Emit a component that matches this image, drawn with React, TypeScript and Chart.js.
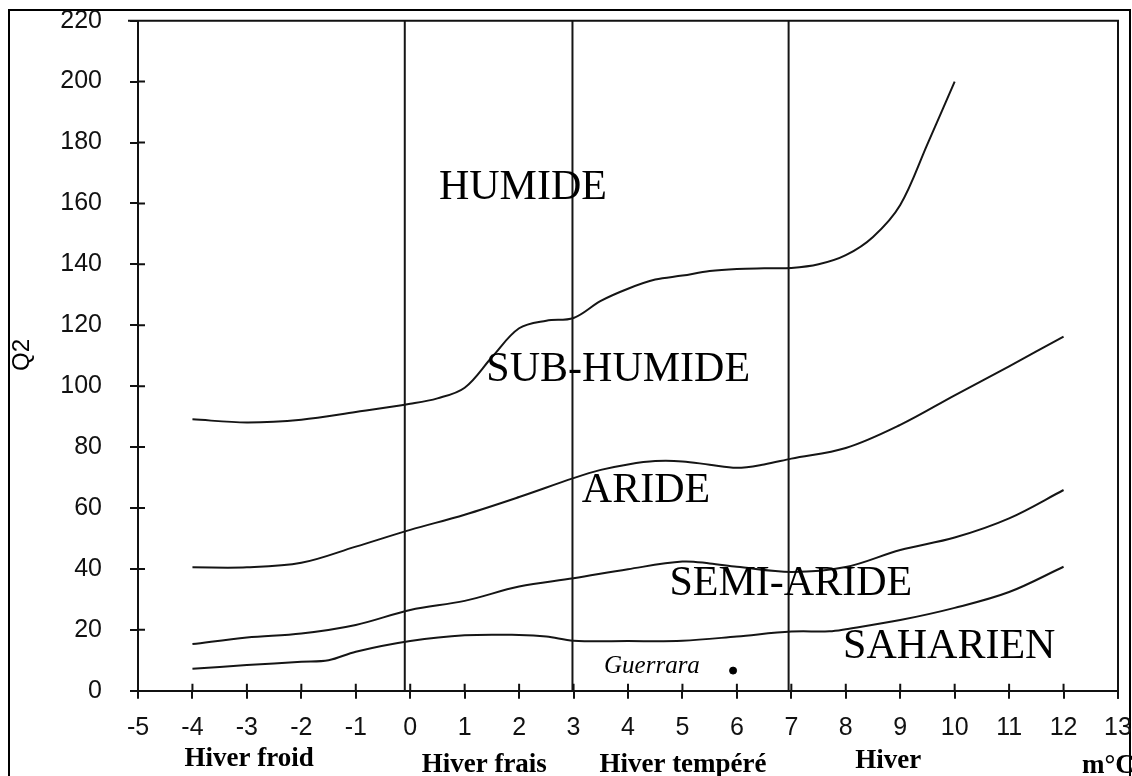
import React, { useEffect, useRef } from 'react';
import { Chart, registerables } from 'chart.js';

Chart.register(...registerables);

// Boundary curves (m °C on x, Q2 on y)
const humideX = [-4, -3, -2, -1, 0, 0.5, 1, 1.5, 2, 2.5, 3, 3.5, 4, 4.5, 5, 5.5, 6, 6.5, 7, 7.5, 8, 8.5, 9, 9.5, 10];
const humideY = [89.1, 88.1, 89, 91.5, 94.2, 96, 99.5, 109.5, 119, 121.5, 122.4, 128, 132, 135, 136.3, 137.8, 138.5, 138.7, 138.8, 140, 143, 149, 159.5, 179.5, 200];

const subHumideX = [-4, -3, -2, -1, 0, 1, 2, 3, 3.5, 4, 4.5, 5, 5.5, 6, 6.5, 7, 8, 9, 10, 11, 12];
const subHumideY = [40.5, 40.5, 42, 47.3, 52.8, 57.8, 63.6, 69.8, 72.5, 74.3, 75.4, 75.3, 74.2, 73.2, 74.3, 76.2, 79.7, 87.3, 97, 106.5, 116.3];

const arideX = [-4, -3, -2, -1, 0, 1, 2, 3, 4, 5, 5.5, 6, 7, 8, 9, 10, 11, 12];
const arideY = [15.3, 17.5, 18.8, 21.6, 26.5, 29.5, 34.2, 36.9, 39.9, 42.4, 41.8, 40.7, 39, 40.6, 46.2, 50.3, 56.6, 65.9];

const semiArideX = [-4, -3, -2, -1.5, -1, 0, 1, 2, 2.5, 3, 4, 5, 6, 7, 7.7, 8, 9, 10, 11, 12];
const semiArideY = [7.2, 8.4, 9.5, 10, 12.8, 16.3, 18.2, 18.3, 17.8, 16.4, 16.3, 16.4, 17.8, 19.4, 19.5, 20.2, 23.2, 27.2, 32.4, 40.7];

// Winter type dividers
const dividerX = [-0.1, 2.98, 6.95];
const dividerYMin = 0;
const dividerYMax = 221;

// Station
const stationName = 'Guerrara';
const stationX = [5.93];
const stationY = [6.6];
const stationLabelX = 4.44;
const stationLabelY = 7.9;

// Zone labels
const zoneLabels = ['HUMIDE', 'SUB-HUMIDE', 'ARIDE', 'SEMI-ARIDE', 'SAHARIEN'];
const zoneLabelX = [2.07, 3.82, 4.33, 6.99, 9.9];
const zoneLabelY = [165, 105.3, 65.6, 35, 14.4];

// Winter labels under the axis
const winterLabels = ['Hiver froid', 'Hiver frais', 'Hiver tempéré', 'Hiver'];
const winterLabelX = [-2.96, 1.36, 5.01, 8.78];
const winterLabelDy = [68, 74, 74, 70];

const xTitle = 'm°C';
const yTitle = 'Q2';

const X_MIN = -5;
const X_MAX = 13;
const Y_MIN = 0;
const Y_MAX = 220;

function pts(xs: number[], ys: number[]) {
  return xs.map((x, i) => ({ x, y: ys[i] }));
}

const overlayPlugin = {
  id: 'overlay',
  beforeDraw(chart: any) {
    const ctx = chart.ctx;
    ctx.save();
    ctx.fillStyle = '#ffffff';
    ctx.fillRect(0, 0, chart.width, chart.height);
    ctx.strokeStyle = '#000';
    ctx.lineWidth = 2;
    ctx.strokeRect(9, 10, 1121, 820);
    ctx.restore();
  },
  afterDatasetsDraw(chart: any) {
    const ctx = chart.ctx;
    const xs = chart.scales.x;
    const ys = chart.scales.y;
    const a = chart.chartArea;
    ctx.save();
    // frame top & right
    ctx.strokeStyle = '#111';
    ctx.lineWidth = 2;
    ctx.beginPath();
    ctx.moveTo(a.left - 10, a.top);
    ctx.lineTo(a.right, a.top);
    ctx.lineTo(a.right, a.bottom + 8);
    ctx.stroke();
    // inner halves of ticks
    ctx.beginPath();
    for (let v = X_MIN + 1; v < X_MAX; v++) {
      const px = xs.getPixelForValue(v);
      ctx.moveTo(px, a.bottom);
      ctx.lineTo(px, a.bottom - 7);
    }
    for (let v = Y_MIN + 20; v < Y_MAX; v += 20) {
      const py = ys.getPixelForValue(v);
      ctx.moveTo(a.left, py);
      ctx.lineTo(a.left + 7, py);
    }
    ctx.stroke();

    // zone labels
    ctx.fillStyle = '#000';
    ctx.textAlign = 'center';
    ctx.textBaseline = 'middle';
    ctx.font = '42px "Liberation Serif"';
    zoneLabels.forEach((t, i) => {
      ctx.fillText(t, xs.getPixelForValue(zoneLabelX[i]), ys.getPixelForValue(zoneLabelY[i]));
    });

    // station label
    ctx.font = 'italic 25px "Liberation Serif"';
    ctx.fillText(stationName, xs.getPixelForValue(stationLabelX), ys.getPixelForValue(stationLabelY));

    // winter labels
    ctx.font = 'bold 27px "Liberation Serif"';
    winterLabels.forEach((t, i) => {
      ctx.fillText(t, xs.getPixelForValue(winterLabelX[i]), a.bottom + winterLabelDy[i]);
    });
    ctx.textAlign = 'left';
    ctx.fillText(xTitle, 1082, a.bottom + 75);

    // y title
    ctx.font = '24px "Liberation Sans"';
    ctx.translate(22, 355);
    ctx.rotate(-Math.PI / 2);
    ctx.textAlign = 'center';
    ctx.fillText(yTitle, 0, 0);
    ctx.restore();
  },
};

export default function App() {
  const ref = useRef<HTMLCanvasElement | null>(null);
  useEffect(() => {
    if (!ref.current) return;
    const lineStyle = {
      showLine: true,
      borderColor: '#151515',
      borderWidth: 2,
      pointRadius: 0,
      tension: 0.35,
      fill: false,
    };
    const datasets: any[] = [
      { ...lineStyle, label: 'humide', data: pts(humideX, humideY) },
      { ...lineStyle, label: 'subhumide', data: pts(subHumideX, subHumideY) },
      { ...lineStyle, label: 'aride', data: pts(arideX, arideY) },
      { ...lineStyle, label: 'semiaride', data: pts(semiArideX, semiArideY) },
      ...dividerX.map((x, i) => ({
        ...lineStyle,
        tension: 0,
        label: 'div' + i,
        data: [
          { x, y: dividerYMin },
          { x, y: dividerYMax },
        ],
      })),
      {
        label: stationName,
        data: pts(stationX, stationY),
        showLine: false,
        pointRadius: 3.5,
        pointBackgroundColor: '#000',
        pointBorderColor: '#000',
      },
    ];
    const chart = new Chart(ref.current, {
      type: 'scatter',
      data: { datasets },
      plugins: [overlayPlugin],
      options: {
        animation: false,
        responsive: false,
        layout: { padding: { top: 20.7, right: 14, left: 0, bottom: 0 } },
        plugins: { legend: { display: false }, tooltip: { enabled: false } },
        scales: {
          x: {
            type: 'linear',
            min: X_MIN,
            max: X_MAX,
            afterFit: (s: any) => {
              s.height = 776 - 690.7;
              s.paddingLeft = 0;
              s.paddingRight = 0;
            },
            ticks: {
              stepSize: 1,
              autoSkip: false,
              maxRotation: 0,
              padding: 14,
              color: '#111',
              font: { family: 'Liberation Sans', size: 25 },
            },
            grid: {
              display: true,
              drawOnChartArea: false,
              drawTicks: true,
              tickLength: 8,
              color: '#111',
              lineWidth: 2,
            },
            border: { display: true, color: '#111', width: 2 },
          },
          y: {
            type: 'linear',
            min: Y_MIN,
            max: Y_MAX,
            afterFit: (s: any) => {
              s.width = 138;
              s.paddingTop = 0;
              s.paddingBottom = 0;
            },
            ticks: {
              stepSize: 20,
              autoSkip: false,
              padding: 28,
              color: '#111',
              font: { family: 'Liberation Sans', size: 25 },
            },
            grid: {
              display: true,
              drawOnChartArea: false,
              drawTicks: true,
              tickLength: 8,
              color: '#111',
              lineWidth: 2,
            },
            border: { display: true, color: '#111', width: 2 },
          },
        },
      },
    });
    return () => chart.destroy();
  }, []);
  return (
    <div style={{ position: 'fixed', left: 0, top: 0, width: 1132, height: 776, background: '#fff' }}>
      <canvas ref={ref} width={1132} height={776} style={{ width: 1132, height: 776, display: 'block' }} />
    </div>
  );
}
